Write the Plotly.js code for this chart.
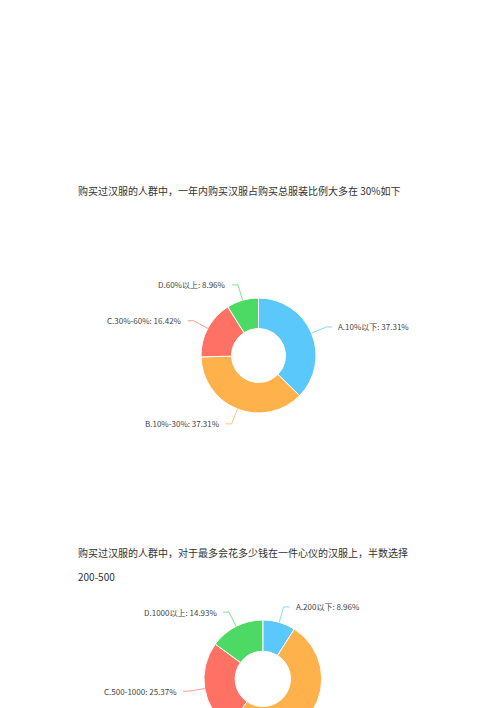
<!DOCTYPE html>
<html>
<head>
<meta charset="utf-8">
<script src="https://cdn.plot.ly/plotly-3.0.1.min.js"></script>
<style>
  html, body { margin: 0; padding: 0; background: #fff; overflow: hidden; }
  #chart { width: 500px; height: 780px; }
</style>
</head>
<body>
<div id="chart"></div>
<script>
// share of hanfu in total clothing purchases
const ratioLabels = ["A.10%以下", "B.10%-30%", "C.30%-60%", "D.60%以上"];
const ratioValues = [37.31, 37.31, 16.42, 8.96];

// most money spent on one hanfu
const spendLabels = ["A.200以下", "B.200-500", "C.500-1000", "D.1000以上"];
const spendValues = [8.96, 50.74, 25.37, 14.93];

const paragraph1 = "购买过汉服的人群中，一年内购买汉服占购买总服装比例大多在 30%如下";
const paragraph2 = "购买过汉服的人群中，对于最多会花多少钱在一件心仪的汉服上，半数选择";
const paragraph2b = "200-500";

const W = 500;
const H = 780;
const VIEW_H = 708; // page below this is cut off in the shot
const sliceColors = ["#5AC8FA", "#FFB24C", "#FF7065", "#4CD964"];
const FONT = '"Noto Sans CJK SC", "Noto Sans", sans-serif';

const px = (x) => x / W;
const py = (y) => 1 - y / H;

function donut(labels, values, cx, cy, r) {
  const total = values.reduce((a, b) => a + b, 0);
  const shapes = [];
  const annotations = [];
  let cum = 0;

  values.forEach((v, i) => {
    const theta = ((cum + v / 2) / total) * 2 * Math.PI;
    cum += v;
    const s = Math.sin(theta);
    const c = Math.cos(theta);
    const dir = s >= 0 ? 1 : -1;
    const x0 = cx + r * s, y0 = cy - r * c;
    const x1 = cx + (r + 16) * s, y1 = cy - (r + 16) * c;
    const x2 = x1 + 6 * dir;

    // label runs off the bottom of the page, like the original
    if (y0 > VIEW_H) {
      return;
    }

    [[x0, y0, x1, y1], [x1, y1, x2, y1]].forEach(([a, b, d, e]) => {
      shapes.push({
        type: "line", xref: "paper", yref: "paper",
        x0: px(a), y0: py(b), x1: px(d), y1: py(e),
        line: { color: sliceColors[i], width: 1 },
        opacity: 0.7,
      });
    });

    annotations.push({
      xref: "paper", yref: "paper",
      x: px(x2 + 4 * dir), y: py(y1),
      xanchor: dir > 0 ? "left" : "right", yanchor: "middle",
      text: `${labels[i]}: ${v.toFixed(2)}%`,
      showarrow: false,
      font: { family: FONT, size: 8, color: "#444" },
    });
  });

  const trace = {
    type: "pie",
    labels: labels,
    values: values,
    sort: false,
    direction: "clockwise",
    rotation: 0,
    hole: 0.47,
    textinfo: "none",
    hoverinfo: "label+percent",
    showlegend: false,
    marker: { colors: sliceColors, line: { color: "#ffffff", width: 1 } },
    domain: { x: [px(cx - r), px(cx + r)], y: [py(cy + r), py(cy - r)] },
  };

  return { trace, shapes, annotations };
}

const chart1 = donut(ratioLabels, ratioValues, 258.5, 355.5, 57.5);
const chart2 = donut(spendLabels, spendValues, 262.8, 678.9, 58.9);

function textLine(text, y) {
  return {
    xref: "paper", yref: "paper",
    x: px(76), y: py(y),
    xanchor: "left", yanchor: "middle",
    text: text,
    showarrow: false,
    font: { family: FONT, size: 10, color: "#333" },
  };
}

const layout = {
  width: W,
  height: H,
  margin: { t: 0, r: 0, b: 0, l: 0 },
  paper_bgcolor: "#ffffff",
  plot_bgcolor: "#ffffff",
  shapes: chart1.shapes.concat(chart2.shapes),
  annotations: chart1.annotations.concat(chart2.annotations, [
    textLine(paragraph1, 190),
    textLine(paragraph2, 552),
    textLine(paragraph2b, 576),
  ]),
};

Plotly.newPlot("chart", [chart1.trace, chart2.trace], layout, {
  displayModeBar: false,
  staticPlot: true,
});
</script>
</body>
</html>
